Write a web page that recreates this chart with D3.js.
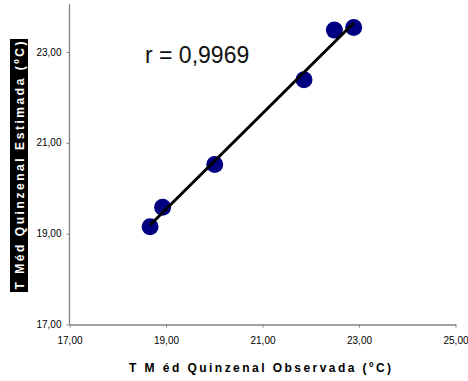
<!DOCTYPE html>
<html>
<head>
<meta charset="utf-8">
<script src="https://cdn.jsdelivr.net/npm/d3@7"></script>
<style>
  body { margin: 0; background: #fff; }
  svg { display: block; font-family: "Liberation Sans", Arial, sans-serif; }
</style>
</head>
<body>
<svg width="468" height="381"></svg>
<script>
// observed vs estimated biweekly mean temperature (°C)
var observed  = [18.67, 18.93, 20.01, 21.86, 22.49, 22.89];
var estimated = [19.15, 19.58, 20.52, 22.39, 23.48, 23.54];
var xTicks = [17, 19, 21, 23, 25];
var yTicks = [17, 19, 21, 23];
var rLabel = "r = 0,9969";

var svg = d3.select("svg");

var x = d3.scaleLinear().domain([17, 25]).range([69.5, 455.5]);
var y = d3.scaleLinear().domain([17, 24]).range([324.5, 6.5]);

var fmt = function (d) { return d3.format(".2f")(d).replace(".", ","); };

// least squares trend line
var mx = d3.mean(observed), my = d3.mean(estimated);
var sxy = d3.sum(observed, function (d, i) { return (d - mx) * (estimated[i] - my); });
var sxx = d3.sum(observed, function (d) { return (d - mx) * (d - mx); });
var slope = sxy / sxx, icpt = my - slope * mx;
var x0 = d3.min(observed), x1 = d3.max(observed);

var xAxis = svg.append("g")
  .attr("transform", "translate(0," + y(17) + ")")
  .call(d3.axisBottom(x).tickValues(xTicks).tickFormat(fmt).tickSizeInner(3).tickSizeOuter(0).tickPadding(9));

var yAxis = svg.append("g")
  .attr("transform", "translate(" + x(17) + ",0)")
  .call(d3.axisLeft(y).tickValues(yTicks).tickFormat(fmt).tickSizeInner(3).tickSizeOuter(0).tickPadding(5));

[xAxis, yAxis].forEach(function (a) {
  a.select(".domain").attr("stroke", "#808080").attr("stroke-width", 1.3);
  a.selectAll(".tick line").attr("stroke", "#808080");
  a.selectAll(".tick text").attr("fill", "#000").style("font-size", "10px")
    .style("font-family", "'Liberation Sans', Arial, sans-serif");
});
yAxis.select(".domain").attr("d", "M0," + y(24.05) + "V" + y(17));

// points
svg.append("g").selectAll("circle")
  .data(observed)
  .enter().append("circle")
  .attr("cx", function (d) { return x(d); })
  .attr("cy", function (d, i) { return y(estimated[i]); })
  .attr("r", 8.5)
  .attr("fill", "#000080");

svg.append("line")
  .attr("x1", x(x0)).attr("y1", y(icpt + slope * x0))
  .attr("x2", x(x1)).attr("y2", y(icpt + slope * x1))
  .attr("stroke", "#000")
  .attr("stroke-width", 3);

svg.append("text")
  .attr("x", 145).attr("y", 63)
  .style("font-size", "23px")
  .attr("fill", "#111")
  .text(rLabel);

// x title
svg.append("text")
  .attr("x", 260).attr("y", 372)
  .attr("text-anchor", "middle")
  .style("font-size", "12px").style("font-weight", "bold")
  .attr("textLength", 262).attr("lengthAdjust", "spacing")
  .text("T M éd Quinzenal Observada (ºC)");

// y title on black box
var yt = svg.append("g").attr("transform", "translate(19,165.5) rotate(-90)");
yt.append("rect").attr("x", -126.5).attr("y", -9).attr("width", 253).attr("height", 18).attr("fill", "#000");
yt.append("text")
  .attr("x", 0).attr("y", 4.5)
  .attr("text-anchor", "middle")
  .attr("fill", "#fff")
  .style("font-size", "12px").style("font-weight", "bold")
  .attr("textLength", 248).attr("lengthAdjust", "spacing")
  .text("T Méd Quinzenal Estimada (ºC)");
</script>
</body>
</html>
